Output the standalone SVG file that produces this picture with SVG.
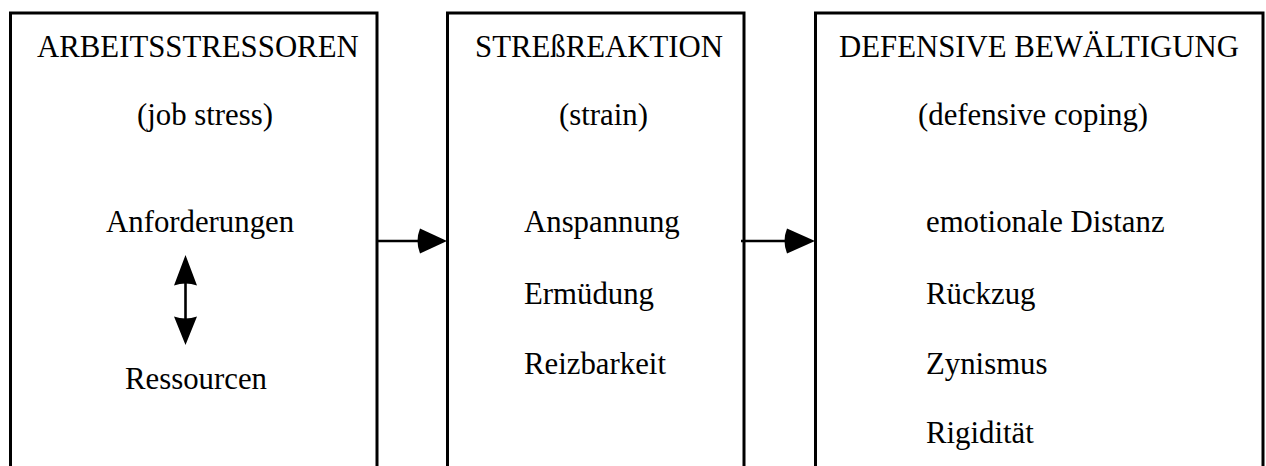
<svg xmlns="http://www.w3.org/2000/svg" width="1266" height="466" viewBox="0 0 1266 466">
<style>
.box{fill:none;stroke:#000;stroke-width:3;stroke-linejoin:miter}
.t{font-family:"Liberation Serif","Times New Roman",serif;font-size:30.8px;fill:#000}
.ln{stroke:#000;stroke-width:2.6;fill:none}
.hd{fill:#000;stroke:none}
</style>
<rect width="1266" height="466" fill="#fff"/>
<g id="node-stressoren">
<path class="box" d="M10.5,468 V13 H377 V468"/>
<text class="t" x="37" y="57">ARBEITSSTRESSOREN</text>
<text class="t" x="137" y="125">(job stress)</text>
<text class="t" x="106" y="232">Anforderungen</text>
<text class="t" x="125" y="389">Ressourcen</text>
</g>
<g id="node-reaktion">
<path class="box" d="M447.5,468 V13 H744 V468"/>
<text class="t" x="475" y="57">STREßREAKTION</text>
<text class="t" x="559" y="125">(strain)</text>
<text class="t" x="524" y="232">Anspannung</text>
<text class="t" x="524" y="304">Ermüdung</text>
<text class="t" x="524" y="374">Reizbarkeit</text>
</g>
<g id="node-bewaeltigung">
<path class="box" d="M815.5,468 V13 H1263 V468"/>
<text class="t" x="839" y="57">DEFENSIVE BEWÄLTIGUNG</text>
<text class="t" x="918" y="125">(defensive coping)</text>
<text class="t" x="926" y="232">emotionale Distanz</text>
<text class="t" x="926" y="304">Rückzug</text>
<text class="t" x="926" y="374">Zynismus</text>
<text class="t" x="926" y="443">Rigidität</text>
</g>
<g id="connectors">
<line class="ln" x1="376" y1="241" x2="424" y2="241"/>
<path class="hd" d="M447,241 L420,228.5 Q415,241 420,253.5 Z"/>
<line class="ln" x1="741" y1="241" x2="790" y2="241"/>
<path class="hd" d="M815,241 L787,228.5 Q782,241 787,253.5 Z"/>
<line class="ln" x1="185.5" y1="280" x2="185.5" y2="322"/>
<path class="hd" d="M185.5,255 L174,285.5 Q185.5,281.5 197,285.5 Z"/>
<path class="hd" d="M185.5,345 L174,316.5 Q185.5,320.5 197,316.5 Z"/>
</g>
</svg>
